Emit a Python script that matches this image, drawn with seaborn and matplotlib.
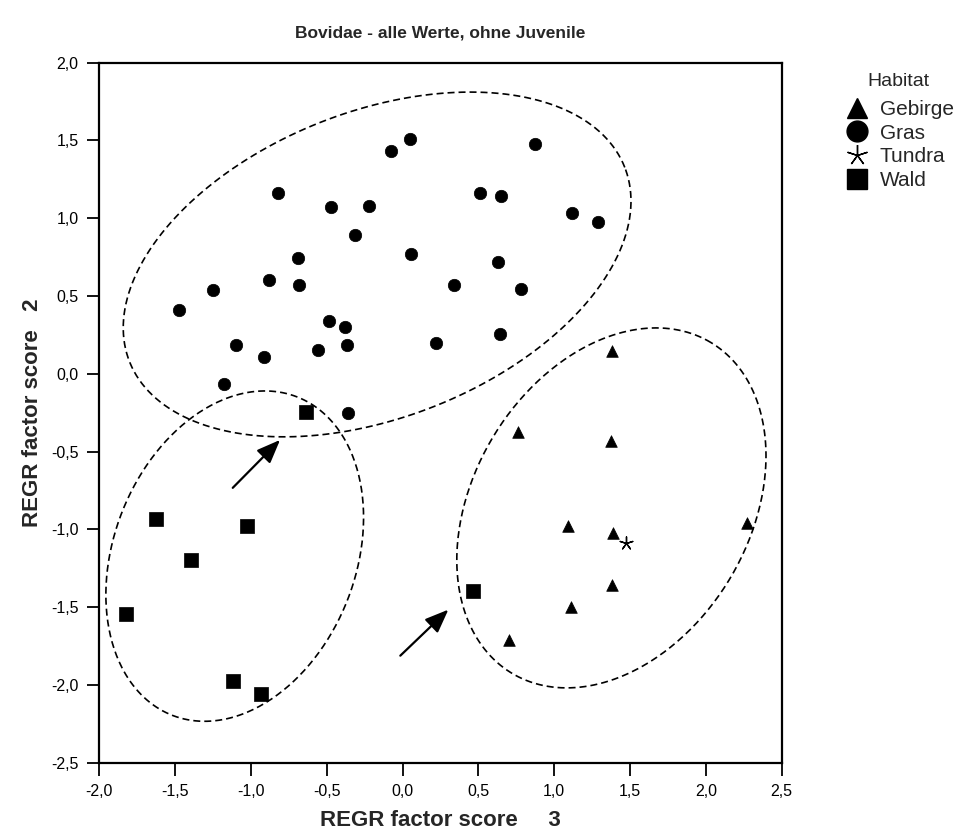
import numpy as np
import pandas as pd
import matplotlib
matplotlib.use("Agg")
import matplotlib.pyplot as plt
from matplotlib.lines import Line2D
from matplotlib.ticker import FuncFormatter, MultipleLocator
import seaborn as sns

# ---------------- data ----------------
gras_x = [0.052, -0.078, -0.819, -0.472, -0.221, -0.311, -0.687, 0.058, -0.879, -1.248,
          -0.683, -1.476, -0.485, -0.377, -1.096, -0.366, -0.916, -0.557, -1.177, -0.359,
          0.876, 0.513, 0.652, 1.116, 1.290, 0.632, 0.342, 0.782, 0.219, 0.645]
gras_y = [1.512, 1.431, 1.163, 1.071, 1.081, 0.895, 0.747, 0.769, 0.605, 0.541,
          0.571, 0.409, 0.338, 0.303, 0.188, 0.188, 0.111, 0.154, -0.063, -0.253,
          1.478, 1.165, 1.141, 1.036, 0.978, 0.721, 0.571, 0.546, 0.199, 0.256]
wald_x = [-0.639, -1.624, -1.028, -1.397, -1.826, -1.116, -0.933, 0.467]
wald_y = [-0.245, -0.931, -0.976, -1.198, -1.545, -1.972, -2.057, -1.395]
gebirge_x = [1.382, 0.760, 1.375, 1.094, 1.389, 2.268, 1.384, 1.112, 0.700]
gebirge_y = [0.149, -0.373, -0.431, -0.980, -1.024, -0.960, -1.357, -1.500, -1.710]
tundra_x = [1.476]
tundra_y = [-1.087]

categories = ["Gebirge", "Gras", "Tundra", "Wald"]

df = pd.concat([
    pd.DataFrame({"x": gebirge_x, "y": gebirge_y, "Habitat": "Gebirge"}),
    pd.DataFrame({"x": gras_x, "y": gras_y, "Habitat": "Gras"}),
    pd.DataFrame({"x": tundra_x, "y": tundra_y, "Habitat": "Tundra"}),
    pd.DataFrame({"x": wald_x, "y": wald_y, "Habitat": "Wald"}),
], ignore_index=True)

# ---------------- style ----------------
sns.set_theme(style="white")
plt.rcParams["font.family"] = ["Liberation Sans", "DejaVu Sans"]

W, H = 960, 836
fig = plt.figure(figsize=(W / 100, H / 100), dpi=100)
ax_l, ax_r, ax_t, ax_b = 99.3, 781.7, 62.7, 762.7
ax = fig.add_axes([ax_l / W, 1 - ax_b / H, (ax_r - ax_l) / W, (ax_b - ax_t) / H])

xlim = (-2.0, 2.5)
ylim = (-2.5, 2.0)

star = (5, 2, 0)
markers = {"Gebirge": "^", "Gras": "o", "Tundra": star, "Wald": "s"}
sizes = {"Gebirge": 70, "Gras": 80, "Tundra": 90, "Wald": 95}

for cat in categories:
    sub = df[df["Habitat"] == cat]
    if cat == "Tundra":
        sns.scatterplot(data=sub, x="x", y="y", marker=markers[cat], s=sizes[cat],
                        color="black", linewidth=1.0, legend=False, ax=ax, zorder=3)
    else:
        sns.scatterplot(data=sub, x="x", y="y", marker=markers[cat], s=sizes[cat],
                        color="black", edgecolor="black", linewidth=0.5,
                        legend=False, ax=ax, zorder=3)

ax.set_xlim(*xlim)
ax.set_ylim(*ylim)

# ---------------- ellipses (pixel-defined shapes) ----------------
sx = (ax_r - ax_l) / (xlim[1] - xlim[0])
sy = (ax_b - ax_t) / (ylim[1] - ylim[0])
ellipses = [
    # cx, cy (data), semi-axis a, b (px), angle (deg)
    (-0.168, 0.703, 266, 153, 21.4),
    (-1.107, -1.172, 171, 121, 68.5),
    (1.377, -0.862, 193, 138, 58.9),
]
t = np.linspace(0, 2 * np.pi, 400)
for cx, cy, a, b, ang in ellipses:
    th = np.deg2rad(ang)
    dx = a * np.cos(th) * np.cos(t) - b * np.sin(th) * np.sin(t)
    dy = a * np.sin(th) * np.cos(t) + b * np.cos(th) * np.sin(t)
    ax.plot(cx + dx / sx, cy + dy / sy, color="black", lw=1.2,
            linestyle=(0, (4.2, 2.4)), zorder=2)

# ---------------- arrows ----------------
arrows = [((-1.120, -0.733), (-0.808, -0.425)),
          ((-0.015, -1.812), (0.302, -1.516))]
for tail, head in arrows:
    ax.annotate("", xy=head, xytext=tail,
                arrowprops=dict(arrowstyle="-|>,head_length=0.8,head_width=0.32",
                                color="black", lw=1.6, shrinkA=0, shrinkB=0,
                                mutation_scale=18))

# ---------------- axes formatting ----------------
fmt = FuncFormatter(lambda v, p: f"{v:.1f}".replace(".", ","))
ax.xaxis.set_major_locator(MultipleLocator(0.5))
ax.yaxis.set_major_locator(MultipleLocator(0.5))
ax.xaxis.set_major_formatter(fmt)
ax.yaxis.set_major_formatter(fmt)
ax.tick_params(axis="both", direction="out", length=9, width=1.3,
               labelsize=11.5, color="black", labelcolor="black",
               bottom=True, left=True, pad=6)
for s in ax.spines.values():
    s.set_color("black")
    s.set_linewidth(1.6)
ax.grid(False)

ax.set_xlabel("REGR factor score     3", fontsize=16, fontweight="bold", labelpad=8)
ax.set_ylabel("REGR factor score   2", fontsize=16, fontweight="bold", labelpad=6)
ax.set_title("Bovidae - alle Werte, ohne Juvenile", fontsize=12.5,
             fontweight="bold", pad=18)

# ---------------- legend ----------------
handles = [
    Line2D([], [], marker="^", color="black", linestyle="none", markersize=14),
    Line2D([], [], marker="o", color="black", linestyle="none", markersize=15),
    Line2D([], [], marker=star, color="black", linestyle="none", markersize=15,
           markeredgewidth=1.0),
    Line2D([], [], marker="s", color="black", linestyle="none", markersize=14),
]
fig.text(898 / W, 1 - 82 / H, "Habitat", ha="center", va="center", fontsize=14)
leg = fig.legend(handles=handles, labels=categories,
                 loc="upper left", bbox_to_anchor=(842.4 / W, 1 - 96 / H),
                 borderaxespad=0, frameon=False, fontsize=15,
                 handlelength=1.0, handletextpad=0.6, labelspacing=0.22,
                 borderpad=0.2)

fig.savefig("out.png", dpi=100, facecolor="white")
